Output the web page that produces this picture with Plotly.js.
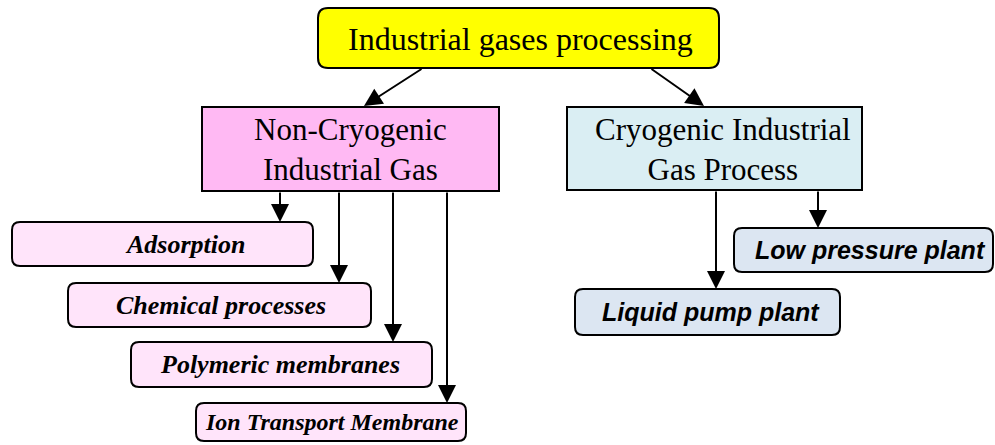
<!DOCTYPE html>
<html>
<head>
<meta charset="utf-8">
<script src="https://cdn.plot.ly/plotly-3.0.1.min.js"></script>
<style>html,body{margin:0;padding:0;background:#fff;}#chart{width:995px;height:445px;}</style>
</head>
<body>
<div id="chart"></div>
<script>
// ---- Data: node labels and hierarchy ----
const rootLabel = ["Industrial gases processing"];
const groupLabels = ["Non-Cryogenic<br>Industrial Gas", "Cryogenic Industrial<br>Gas Process"];
const nonCryoMethods = ["Adsorption", "Chemical processes", "Polymeric membranes", "Ion Transport Membrane"];
const cryoPlants = ["Low pressure plant", "Liquid pump plant"];

// ---- Geometry (pixel layout) ----
const W = 995, H = 445;
const rootBox = {x0: 318, x1: 719, y0: 8, y1: 68, tx: 520, ty: 39};
const groupBoxes = [
  {x0: 202, x1: 499, y0: 107, y1: 191, tx: 350, ty: 149},
  {x0: 567, x1: 862, y0: 107, y1: 190, tx: 723, ty: 149}
];
const nonCryoBoxes = [
  {x0: 12,  x1: 313, y0: 222, y1: 266, tx: 185, ty: 244, ax: 280, fs: 26},
  {x0: 68,  x1: 371, y0: 283, y1: 327, tx: 221, ty: 305, ax: 339, fs: 26},
  {x0: 131, x1: 432, y0: 342, y1: 387, tx: 280, ty: 364, ax: 393, fs: 26},
  {x0: 196, x1: 466, y0: 403, y1: 441, tx: 332, ty: 422, ax: 447, fs: 24}
];
const cryoBoxes = [
  {x0: 734, x1: 993, y0: 228, y1: 272, tx: 870, ty: 250, ax: 818},
  {x0: 575, x1: 840, y0: 289, y1: 335, tx: 711, ty: 312, ax: 716}
];
const rootArrows = [
  {tx: 423, ty: 68, hx: 364, hy: 106},
  {tx: 650, ty: 68, hx: 704, hy: 106}
];

function rrect(b, r) {
  const {x0, x1, y0, y1} = b;
  return `M ${x0 + r},${y0} L ${x1 - r},${y0} Q ${x1},${y0} ${x1},${y0 + r} L ${x1},${y1 - r} Q ${x1},${y1} ${x1 - r},${y1} L ${x0 + r},${y1} Q ${x0},${y1} ${x0},${y1 - r} L ${x0},${y0 + r} Q ${x0},${y0} ${x0 + r},${y0} Z`;
}

const shapes = [];
const annotations = [];
const line = {color: '#000', width: 2};

function addBox(b, fill, r) {
  if (r > 0) {
    shapes.push({type: 'path', xref: 'x', yref: 'y', path: rrect(b, r), fillcolor: fill, line: line, layer: 'below'});
  } else {
    shapes.push({type: 'rect', xref: 'x', yref: 'y', x0: b.x0, x1: b.x1, y0: b.y0, y1: b.y1, fillcolor: fill, line: line, layer: 'below'});
  }
}
function addText(b, text, font) {
  annotations.push({x: b.tx, y: b.ty, xref: 'x', yref: 'y', text: text, showarrow: false,
    font: font, xanchor: 'center', yanchor: 'middle', align: 'center'});
}
function addArrow(tx, ty, hx, hy) {
  annotations.push({x: hx, y: hy, ax: tx, ay: ty, xref: 'x', yref: 'y', axref: 'x', ayref: 'y',
    text: '', showarrow: true, arrowhead: 2, arrowsize: 1.8, arrowwidth: 2, arrowcolor: '#000', standoff: 0, startstandoff: 0});
}

const serif = 'Liberation Serif, Times New Roman, serif';
const sans = 'Liberation Sans, Arial, sans-serif';

// Root
addBox(rootBox, '#FFFF00', 10);
addText(rootBox, rootLabel[0], {family: serif, size: 32, color: '#000'});
rootArrows.forEach(a => addArrow(a.tx, a.ty, a.hx, a.hy));

// Groups
addBox(groupBoxes[0], '#FFB9F3', 0);
addText(groupBoxes[0], groupLabels[0], {family: serif, size: 31, color: '#000'});
addBox(groupBoxes[1], '#DAEEF3', 0);
addText(groupBoxes[1], groupLabels[1], {family: serif, size: 31, color: '#000'});

// Non-cryogenic methods
nonCryoMethods.forEach((lab, i) => {
  const b = nonCryoBoxes[i];
  addBox(b, '#FFE4FA', 8);
  addText(b, '<b><i>' + lab + '</i></b>', {family: serif, size: b.fs, color: '#000'});
  addArrow(b.ax, groupBoxes[0].y1, b.ax, b.y0);
});

// Cryogenic plants
cryoPlants.forEach((lab, i) => {
  const b = cryoBoxes[i];
  addBox(b, '#DCE6F2', 8);
  addText(b, '<b><i>' + lab + '</i></b>', {family: sans, size: 25, color: '#000'});
  addArrow(b.ax, groupBoxes[1].y1, b.ax, b.y0);
});

const layout = {
  width: W, height: H,
  margin: {l: 0, r: 0, t: 0, b: 0},
  paper_bgcolor: '#fff', plot_bgcolor: '#fff',
  xaxis: {range: [0, W], visible: false, fixedrange: true},
  yaxis: {range: [H, 0], visible: false, fixedrange: true},
  showlegend: false,
  shapes: shapes,
  annotations: annotations
};
Plotly.newPlot('chart', [], layout, {staticPlot: true, displayModeBar: false});
</script>
</body>
</html>
